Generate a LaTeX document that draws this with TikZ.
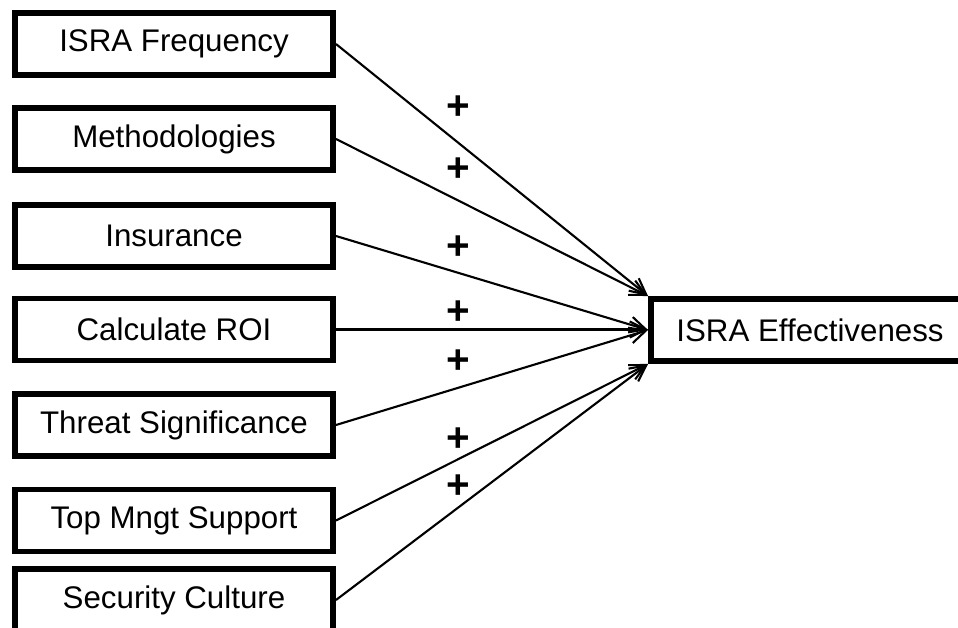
\documentclass[tikz,border=0pt]{standalone}
\usepackage{fontspec}
\setmainfont{Liberation Sans}
\usepackage{tikz}
\usetikzlibrary{arrows, arrows.meta, positioning}

\begin{document}
\begin{tikzpicture}[
  factor/.style={draw, line width=3.4pt, fill=white,
    minimum width=6.36cm, minimum height=1.24cm,
    inner sep=0pt, align=center, font=\fontsize{17.8}{20}\selectfont},
  plus/.style={inner sep=0pt, font=\fontsize{23}{24}\selectfont\bfseries},
  arr/.style={line width=1.2pt, ->, >={Straight Barb[length=0.32cm, width=0.32cm]}}
]
\useasboundingbox (0,0) rectangle (19.16,-12.56);

\node[factor] (freq) at (3.48,-0.88)  {ISRA Frequency};
\node[factor] (meth) at (3.48,-2.78)  {Methodologies};
\node[factor] (ins)  at (3.48,-4.72)  {Insurance};
\node[factor] (roi)  at (3.48,-6.59)  {Calculate ROI};
\node[factor] (thr)  at (3.48,-8.50)  {Threat Significance};
\node[factor] (mgmt) at (3.48,-10.41) {Top Mngt Support};
\node[factor] (cult) at (3.48,-12.00) {Security Culture};

\node[factor] (eff) at (16.2,-6.6) {ISRA Effectiveness};

\draw[arr] (freq.east) -- (eff.north west);
\draw[arr] (meth.east) -- (eff.north west);
\draw[arr] (ins.east)  -- (eff.west);
\draw[arr] (roi.east)  -- (roi.east -| eff.west);
\draw[arr] (thr.east)  -- (eff.west);
\draw[arr] (mgmt.east) -- (eff.south west);
\draw[arr] (cult.east) -- (eff.south west);

\node[plus] (p1) at (9.16,-2.16) {+};
\node[plus] (p2) at (9.16,-3.40) {+};
\node[plus] (p3) at (9.16,-4.96) {+};
\node[plus] (p4) at (9.16,-6.26) {+};
\node[plus] (p5) at (9.16,-7.24) {+};
\node[plus] (p6) at (9.16,-8.80) {+};
\node[plus] (p7) at (9.16,-9.74) {+};
\end{tikzpicture}
\end{document}
